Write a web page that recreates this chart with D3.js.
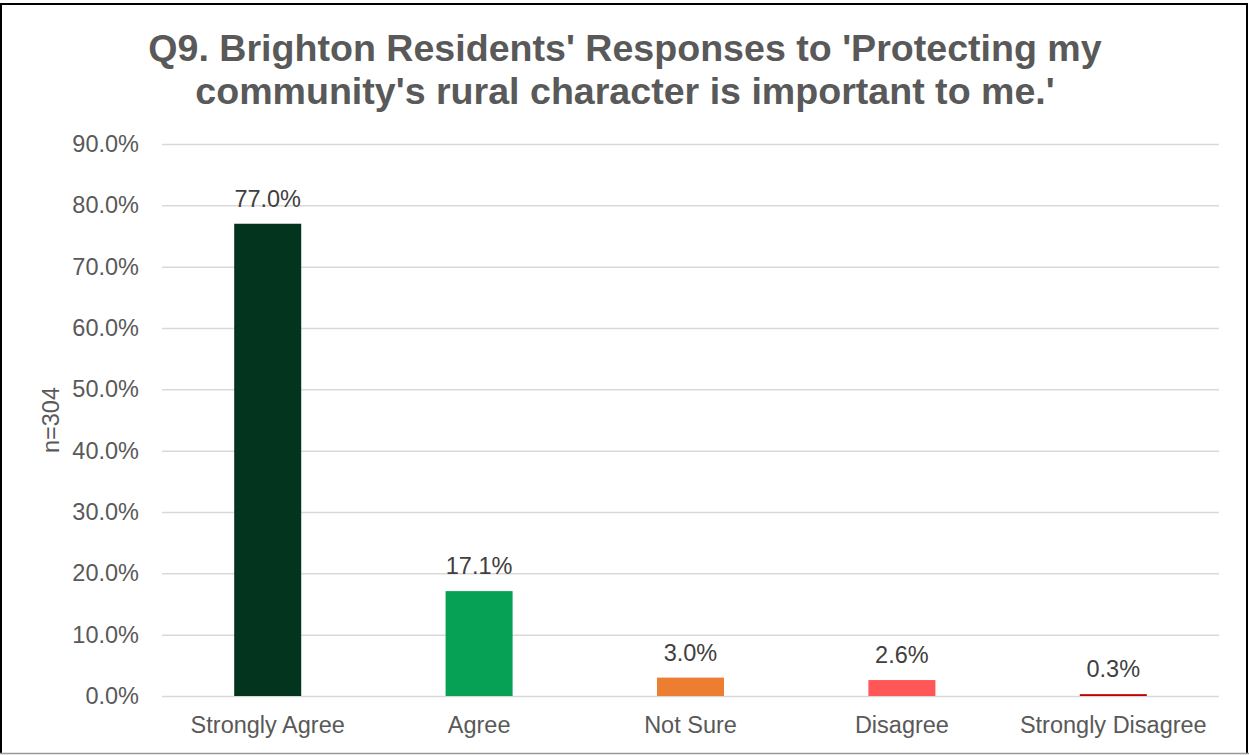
<!DOCTYPE html>
<html>
<head>
<meta charset="utf-8">
<script src="https://cdn.jsdelivr.net/npm/d3@7"></script>
<style>
  html, body { margin: 0; padding: 0; background: #fff; }
  svg { display: block; font-family: "Liberation Sans", Arial, sans-serif; }
</style>
</head>
<body>
<svg id="chart" width="1249" height="755"></svg>
<script>
const categories = ["Strongly Agree", "Agree", "Not Sure", "Disagree", "Strongly Disagree"];
const values = [77.0, 17.1, 3.0, 2.6, 0.3];
const colors = ["#03341D", "#06A155", "#ED7D31", "#FF5757", "#C00000"];
const tickValues = [0, 10, 20, 30, 40, 50, 60, 70, 80, 90];
const titleLines = ["Q9. Brighton Residents' Responses to 'Protecting my", "community's rural character is important to me.'"];
const axisTitle = "n=304";

const svg = d3.select("#chart");
const W = 1249, H = 755;
const m = { left: 162, right: 30, top: 144, bottom: 59 };

const x = d3.scaleBand().domain(categories).range([m.left, W - m.right]).paddingInner(0.683).paddingOuter(0.3415);
const y = d3.scaleLinear().domain([0, 90]).range([H - m.bottom, m.top]);

// border
svg.append("line").attr("x1", 1).attr("x2", 1).attr("y1", 3).attr("y2", 754).attr("stroke", "#000").attr("stroke-width", 2);
svg.append("line").attr("x1", 0).attr("x2", 1248).attr("y1", 4).attr("y2", 4).attr("stroke", "#000").attr("stroke-width", 2);
svg.append("line").attr("x1", 1247).attr("x2", 1247).attr("y1", 3).attr("y2", 754).attr("stroke", "#000").attr("stroke-width", 2);
svg.append("line").attr("x1", 0).attr("x2", 1249).attr("y1", 753.5).attr("y2", 753.5).attr("stroke", "#999").attr("stroke-width", 1.5);

// title
svg.append("g").selectAll("text").data(titleLines).join("text")
  .attr("x", 625).attr("y", (d, i) => 61 + i * 43)
  .attr("text-anchor", "middle")
  .attr("font-size", 37.6).attr("font-weight", "bold").attr("fill", "#595959")
  .text(d => d);

// y axis with gridlines
const yAxis = d3.axisLeft(y).tickValues(tickValues).tickSize(-(W - m.left - m.right)).tickPadding(23)
  .tickFormat(d => d3.format(".1f")(d) + "%");
const gy = svg.append("g").attr("transform", `translate(${m.left},0)`).call(yAxis);
gy.select(".domain").remove();
gy.selectAll(".tick line").attr("stroke", "#d9d9d9").attr("stroke-width", 1.5);
gy.selectAll(".tick text").attr("font-size", 23.5).attr("fill", "#595959").attr("font-family", "Liberation Sans, Arial, sans-serif");

// x axis
const xAxis = d3.axisBottom(x).tickSize(0).tickPadding(20);
const gx = svg.append("g").attr("transform", `translate(0,${y(0)})`).call(xAxis);
gx.select(".domain").remove();
gx.selectAll(".tick text").attr("font-size", 23.5).attr("fill", "#595959").attr("font-family", "Liberation Sans, Arial, sans-serif");

// bars
svg.append("g").selectAll("rect").data(values).join("rect")
  .attr("x", (d, i) => x(categories[i]))
  .attr("width", x.bandwidth())
  .attr("y", d => y(d))
  .attr("height", d => y(0) - y(d))
  .attr("fill", (d, i) => colors[i]);

// data labels
svg.append("g").selectAll("text").data(values).join("text")
  .attr("x", (d, i) => x(categories[i]) + x.bandwidth() / 2)
  .attr("y", d => y(d) - 17)
  .attr("text-anchor", "middle")
  .attr("font-size", 23.5).attr("fill", "#404040")
  .text(d => d3.format(".1f")(d) + "%");

// axis title
svg.append("text")
  .attr("transform", `translate(59,420) rotate(-90)`)
  .attr("text-anchor", "middle")
  .attr("font-size", 23.5).attr("fill", "#595959")
  .text(axisTitle);
</script>
</body>
</html>
